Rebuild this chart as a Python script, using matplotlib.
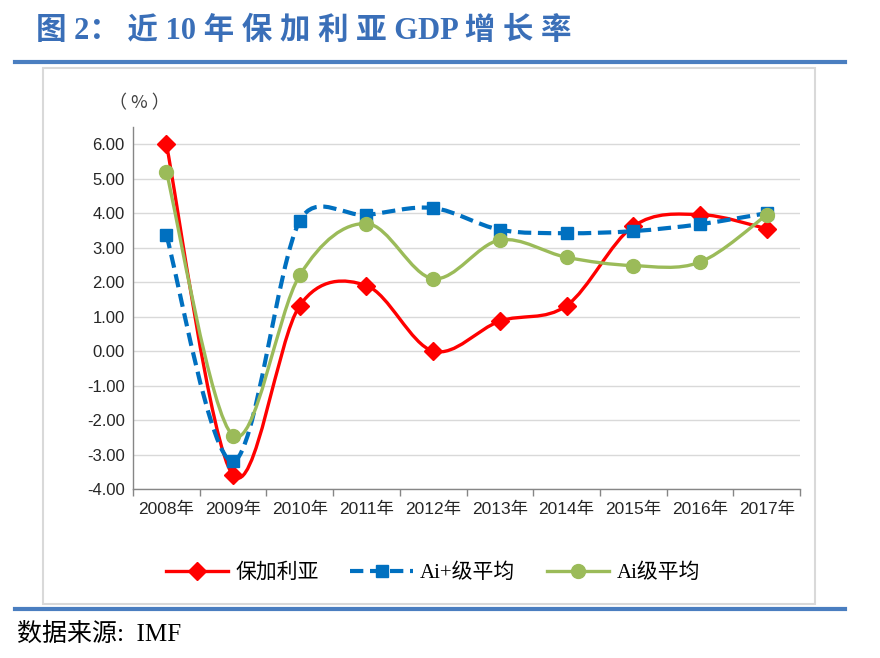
import matplotlib.pyplot as plt
import numpy as np
from matplotlib.path import Path
from matplotlib.patches import PathPatch, Rectangle
from matplotlib.lines import Line2D

plt.rcParams['font.family'] = ['Liberation Serif', 'Noto Sans CJK SC']
SANS = ['Liberation Sans', 'Noto Sans CJK SC']

# data
years = ['2008年', '2009年', '2010年', '2011年', '2012年',
         '2013年', '2014年', '2015年', '2016年', '2017年']
bulgaria = [6.00, -3.60, 1.32, 1.90, 0.00, 0.87, 1.32, 3.62, 3.96, 3.55]
ai_plus = [3.36, -3.20, 3.78, 3.95, 4.15, 3.52, 3.42, 3.48, 3.68, 4.00]
ai_avg = [5.20, -2.45, 2.20, 3.70, 2.10, 3.22, 2.72, 2.48, 2.58, 3.95]
yticks = [-4, -3, -2, -1, 0, 1, 2, 3, 4, 5, 6]


def smooth_path(ax, xs, ys):
    # excel style smoothing, worked out in screen space
    pts = ax.transData.transform(np.column_stack([xs, ys]).astype(float))
    n = len(pts)
    verts = [pts[0]]
    codes = [Path.MOVETO]
    for i in range(n - 1):
        p0 = pts[i - 1] if i > 0 else pts[i]
        p1 = pts[i]
        p2 = pts[i + 1]
        p3 = pts[i + 2] if i + 2 < n else pts[i + 1]
        d12 = np.hypot(*(p2 - p1))
        d02 = np.hypot(*(p2 - p0))
        d13 = np.hypot(*(p3 - p1))
        b1 = 1 / 6 if d02 / 6 < d12 / 2 else d12 / (2 * d02)
        b2 = 1 / 6 if d13 / 6 < d12 / 2 else d12 / (2 * d13)
        c1 = p1 + b1 * (p2 - p0)
        c2 = p2 - b2 * (p3 - p1)
        verts += [c1, c2, p2]
        codes += [Path.CURVE4] * 3
    verts = ax.transData.inverted().transform(np.array(verts))
    return Path(verts, codes)


W, H = 880, 658
fig = plt.figure(figsize=(W / 100, H / 100), dpi=100)


def fx(px):
    return px / W


def fy(py):
    return 1 - py / H


# page decorations
fig.text(fx(36), fy(31), '图 2： 近 10 年 保 加 利 亚 GDP 增 长 率', fontsize=22, fontweight='bold',
         color='#3A6FB8', va='center', ha='left')
fig.add_artist(Line2D([fx(15), fx(845)], [fy(62), fy(62)], color='#4A7EC0', lw=3,
                      transform=fig.transFigure))
fig.add_artist(Rectangle((fx(43), fy(604)), fx(815) - fx(43), fy(68) - fy(604),
                         fill=False, edgecolor='#D9D9D9', lw=1.5, transform=fig.transFigure))
fig.add_artist(Line2D([fx(15), fx(845)], [fy(609), fy(609)], color='#4A7EC0', lw=3,
                      transform=fig.transFigure))
fig.text(fx(17), fy(634), '数据来源:  IMF', fontsize=18, color='black', va='center', ha='left')
fig.text(fx(139), fy(103), '（ % ）', fontsize=13, color='#404040', va='center', ha='center',
         family=['Noto Sans CJK SC'])

ax = fig.add_axes([fx(133), fy(489), fx(800) - fx(133), fy(127) - fy(489)])
x = np.arange(len(years))
ax.set_xlim(-0.5, 9.5)
ax.set_ylim(-4, 6.5)

series = [
    (bulgaria, '#FF0000', 'D', '-', '保加利亚', 9),
    (ai_plus, '#0070C0', 's', (0, (3.2, 1.6)), 'Ai+级平均', 9),
    (ai_avg, '#9BBB59', 'o', '-', 'Ai级平均', 10),
]
handles = []
for k, (vals, col, mk, ls, lab, ms) in enumerate(series):
    lw = 3 if ls != '-' else 2.4
    ax.add_patch(PathPatch(smooth_path(ax, x, vals), fill=False, edgecolor=col, lw=lw,
                           linestyle=ls, zorder=3 + k, capstyle='butt'))
    ax.plot(x, vals, linestyle='none', marker=mk, color=col, markersize=ms, zorder=3 + k)
    handles.append(Line2D([], [], color=col, lw=lw, linestyle=ls, marker=mk, markersize=ms))

ax.set_yticks(yticks)
ax.set_yticklabels([f'{v:.2f}' for v in yticks], family=SANS)
ax.set_xticks(np.arange(-0.5, 10, 1))
ax.set_xticklabels([])
ax.set_xticks(x, minor=True)
ax.set_xticklabels(years, minor=True, family=SANS)
ax.tick_params(axis='x', which='major', length=5, color='#868686', width=1)
ax.tick_params(axis='x', which='minor', length=0, pad=9, labelsize=12.5, labelcolor='#262626')
ax.tick_params(axis='y', length=0, pad=6, labelsize=12, labelcolor='#262626')
ax.yaxis.grid(True, color='#D9D9D9', lw=1)
ax.set_axisbelow(True)
for s in ['top', 'right']:
    ax.spines[s].set_visible(False)
for s in ['left', 'bottom']:
    ax.spines[s].set_color('#868686')
    ax.spines[s].set_linewidth(1)

fig.legend(handles=handles, labels=[s[4] for s in series], loc='center',
           bbox_to_anchor=(fx(433), fy(573)), ncol=3, frameon=False, fontsize=15,
           handlelength=3.0, columnspacing=1.5, handletextpad=0.35)

fig.savefig('out.png', dpi=100)
